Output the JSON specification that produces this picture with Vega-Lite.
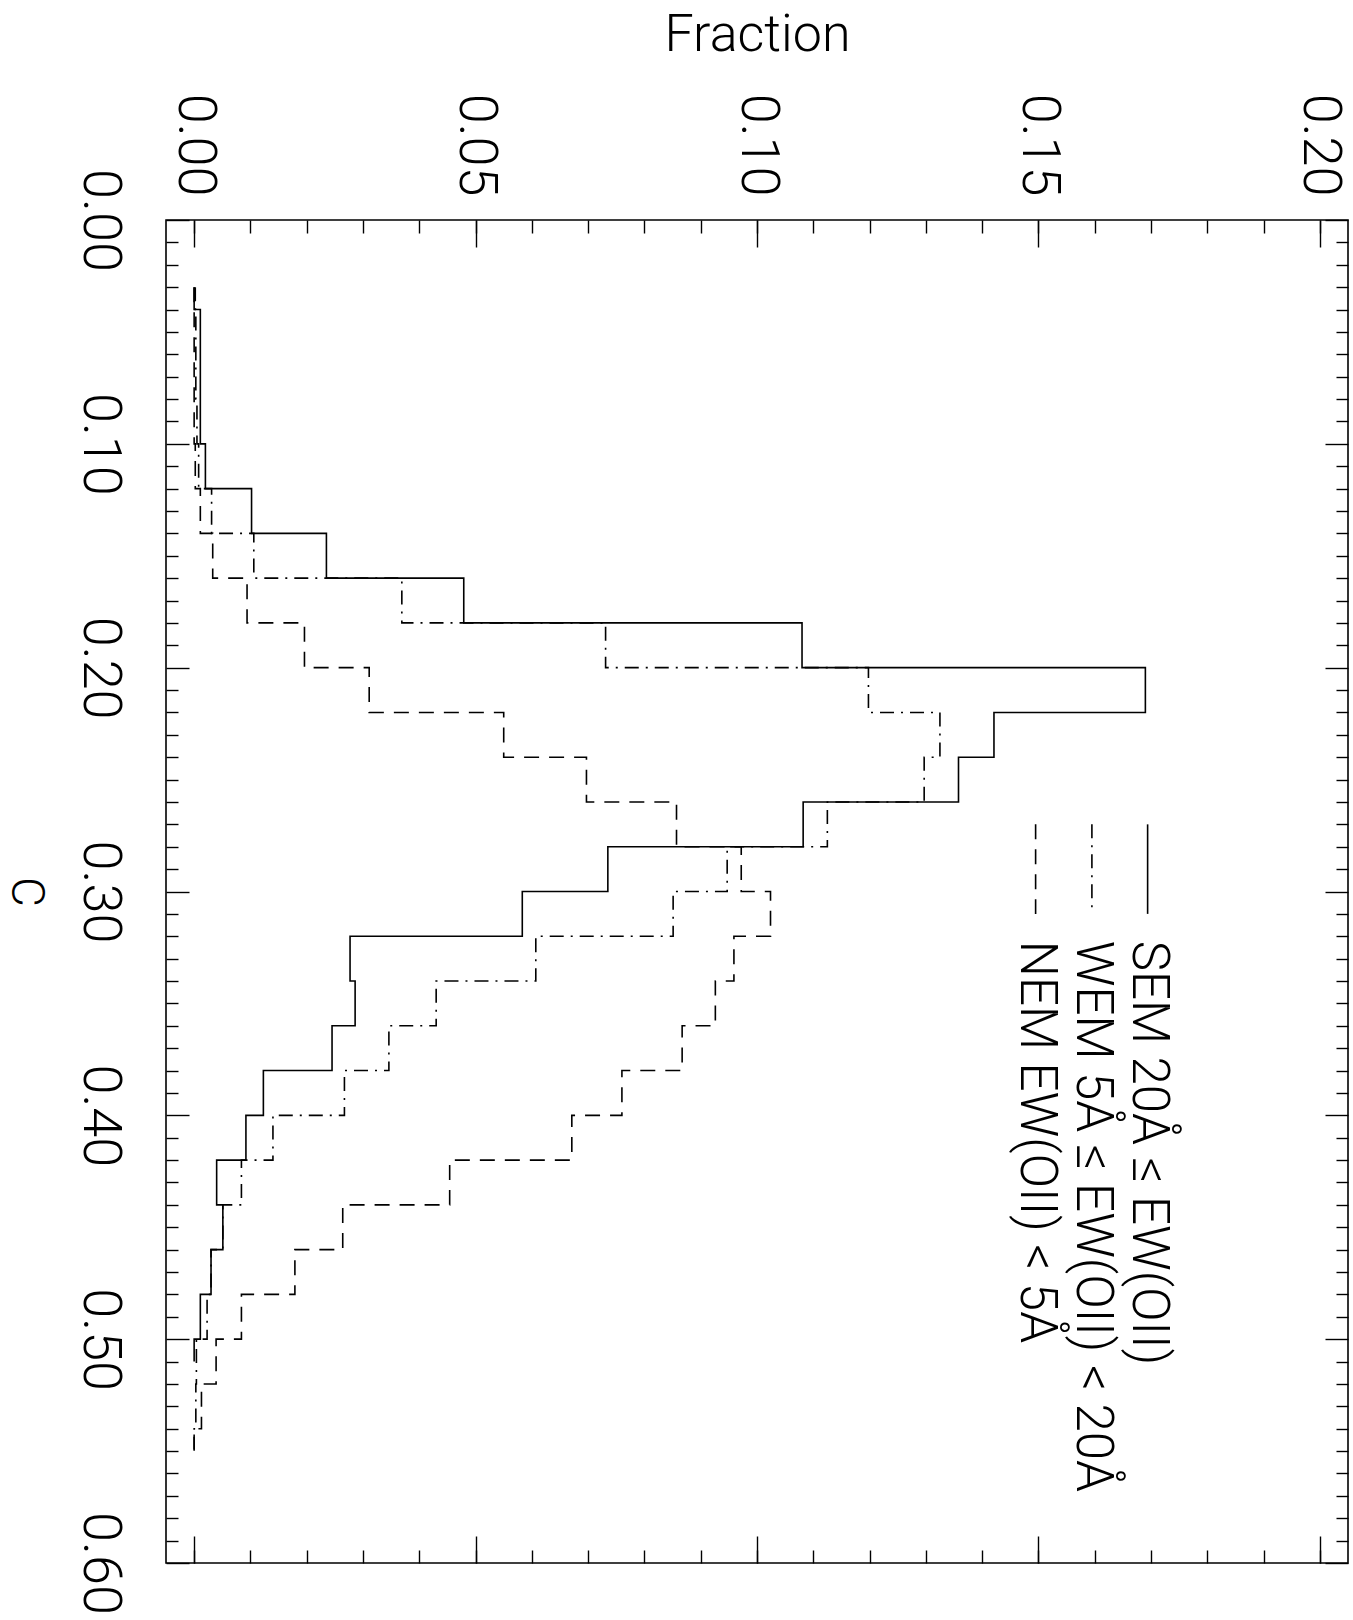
{
  "$schema": "https://vega.github.io/schema/vega-lite/v6.json",
  "width": 1182,
  "height": 1343,
  "autosize": {"type": "none"},
  "padding": {"left": 166, "top": 220, "right": 5, "bottom": 57},
  "background": "white",
  "config": {
    "view": {"stroke": "black", "strokeWidth": 1.6},
    "axis": {"grid": false, "domain": false, "tickColor": "black", "tickWidth": 1.4, "labelFont": "Roboto", "titleFont": "Roboto", "labelColor": "black", "titleColor": "black", "labelFontWeight": 300, "titleFontWeight": 300}
  },
  "datasets": {
    "hist": [
      {"group": "SEM", "c": 0.03, "fraction": 0.0},
      {"group": "SEM", "c": 0.04, "fraction": 0.0011},
      {"group": "SEM", "c": 0.06, "fraction": 0.0011},
      {"group": "SEM", "c": 0.08, "fraction": 0.0011},
      {"group": "SEM", "c": 0.10, "fraction": 0.0020},
      {"group": "SEM", "c": 0.12, "fraction": 0.0102},
      {"group": "SEM", "c": 0.14, "fraction": 0.0235},
      {"group": "SEM", "c": 0.16, "fraction": 0.0479},
      {"group": "SEM", "c": 0.18, "fraction": 0.1080},
      {"group": "SEM", "c": 0.20, "fraction": 0.1690},
      {"group": "SEM", "c": 0.22, "fraction": 0.1421},
      {"group": "SEM", "c": 0.24, "fraction": 0.1358},
      {"group": "SEM", "c": 0.26, "fraction": 0.1082},
      {"group": "SEM", "c": 0.28, "fraction": 0.0735},
      {"group": "SEM", "c": 0.30, "fraction": 0.0583},
      {"group": "SEM", "c": 0.32, "fraction": 0.0277},
      {"group": "SEM", "c": 0.34, "fraction": 0.0286},
      {"group": "SEM", "c": 0.36, "fraction": 0.0245},
      {"group": "SEM", "c": 0.38, "fraction": 0.0123},
      {"group": "SEM", "c": 0.40, "fraction": 0.0092},
      {"group": "SEM", "c": 0.42, "fraction": 0.0040},
      {"group": "SEM", "c": 0.44, "fraction": 0.0051},
      {"group": "SEM", "c": 0.46, "fraction": 0.0030},
      {"group": "SEM", "c": 0.48, "fraction": 0.0011},
      {"group": "SEM", "c": 0.50, "fraction": 0.0},
      {"group": "SEM", "c": 0.51, "fraction": 0.0},
      {"group": "WEM", "c": 0.03, "fraction": 0.0002},
      {"group": "WEM", "c": 0.04, "fraction": 0.0003},
      {"group": "WEM", "c": 0.06, "fraction": 0.0003},
      {"group": "WEM", "c": 0.08, "fraction": 0.0005},
      {"group": "WEM", "c": 0.10, "fraction": 0.0008},
      {"group": "WEM", "c": 0.12, "fraction": 0.0031},
      {"group": "WEM", "c": 0.14, "fraction": 0.0106},
      {"group": "WEM", "c": 0.16, "fraction": 0.0369},
      {"group": "WEM", "c": 0.18, "fraction": 0.0731},
      {"group": "WEM", "c": 0.20, "fraction": 0.1198},
      {"group": "WEM", "c": 0.22, "fraction": 0.1325},
      {"group": "WEM", "c": 0.24, "fraction": 0.1297},
      {"group": "WEM", "c": 0.26, "fraction": 0.1125},
      {"group": "WEM", "c": 0.28, "fraction": 0.0947},
      {"group": "WEM", "c": 0.30, "fraction": 0.0851},
      {"group": "WEM", "c": 0.32, "fraction": 0.0607},
      {"group": "WEM", "c": 0.34, "fraction": 0.0430},
      {"group": "WEM", "c": 0.36, "fraction": 0.0346},
      {"group": "WEM", "c": 0.38, "fraction": 0.0267},
      {"group": "WEM", "c": 0.40, "fraction": 0.0140},
      {"group": "WEM", "c": 0.42, "fraction": 0.0084},
      {"group": "WEM", "c": 0.44, "fraction": 0.0051},
      {"group": "WEM", "c": 0.46, "fraction": 0.0030},
      {"group": "WEM", "c": 0.48, "fraction": 0.0023},
      {"group": "WEM", "c": 0.50, "fraction": 0.0004},
      {"group": "WEM", "c": 0.52, "fraction": 0.0003},
      {"group": "WEM", "c": 0.54, "fraction": 0.0},
      {"group": "WEM", "c": 0.55, "fraction": 0.0},
      {"group": "NEM", "c": 0.03, "fraction": 0.0},
      {"group": "NEM", "c": 0.04, "fraction": 0.0},
      {"group": "NEM", "c": 0.06, "fraction": 0.0},
      {"group": "NEM", "c": 0.08, "fraction": 0.0},
      {"group": "NEM", "c": 0.10, "fraction": 0.0002},
      {"group": "NEM", "c": 0.12, "fraction": 0.0011},
      {"group": "NEM", "c": 0.14, "fraction": 0.0033},
      {"group": "NEM", "c": 0.16, "fraction": 0.0094},
      {"group": "NEM", "c": 0.18, "fraction": 0.0196},
      {"group": "NEM", "c": 0.20, "fraction": 0.0311},
      {"group": "NEM", "c": 0.22, "fraction": 0.0550},
      {"group": "NEM", "c": 0.24, "fraction": 0.0697},
      {"group": "NEM", "c": 0.26, "fraction": 0.0857},
      {"group": "NEM", "c": 0.28, "fraction": 0.0972},
      {"group": "NEM", "c": 0.30, "fraction": 0.1024},
      {"group": "NEM", "c": 0.32, "fraction": 0.0959},
      {"group": "NEM", "c": 0.34, "fraction": 0.0926},
      {"group": "NEM", "c": 0.36, "fraction": 0.0867},
      {"group": "NEM", "c": 0.38, "fraction": 0.0760},
      {"group": "NEM", "c": 0.40, "fraction": 0.0671},
      {"group": "NEM", "c": 0.42, "fraction": 0.0454},
      {"group": "NEM", "c": 0.44, "fraction": 0.0264},
      {"group": "NEM", "c": 0.46, "fraction": 0.0179},
      {"group": "NEM", "c": 0.48, "fraction": 0.0084},
      {"group": "NEM", "c": 0.50, "fraction": 0.0039},
      {"group": "NEM", "c": 0.52, "fraction": 0.0013},
      {"group": "NEM", "c": 0.54, "fraction": 0.0},
      {"group": "NEM", "c": 0.55, "fraction": 0.0}
    ]
  },
  "data": {"name": "hist"},
  "resolve": {"axis": {"x": "independent", "y": "independent"}},
  "layer": [
    {
      "transform": [{"filter": {"field": "group", "equal": "SEM"}}],
      "mark": {"type": "line", "interpolate": "step-before", "color": "black", "strokeWidth": 1.6},
      "encoding": {
        "x": {"field": "fraction", "type": "quantitative",
          "scale": {"domain": [-0.005, 0.205], "nice": false, "zero": false},
          "axis": {"orient": "top", "values": [0, 0.05, 0.1, 0.15, 0.2], "format": ".2f", "tickSize": -27, "labelAngle": 90, "labelAlign": "right", "labelBaseline": "middle", "labelPadding": 51, "labelFontSize": 54, "title": "Fraction", "titleFontSize": 52, "titlePadding": 32}},
        "y": {"field": "c", "type": "quantitative",
          "scale": {"domain": [0, 0.6], "reverse": true, "nice": false, "zero": false},
          "axis": {"orient": "left", "values": [0, 0.1, 0.2, 0.3, 0.4, 0.5, 0.6], "format": ".2f", "tickSize": -23, "labelAngle": 90, "labelAlign": "center", "labelBaseline": "top", "labelPadding": 63, "labelFontSize": 54, "title": "C", "titleAngle": 90, "titleBaseline": "top", "titleFontSize": 46, "titlePadding": 25}},
        "order": {"field": "c"}
      }
    },
    {
      "transform": [{"filter": {"field": "group", "equal": "WEM"}}],
      "mark": {"type": "line", "interpolate": "step-before", "color": "black", "strokeWidth": 1.6, "strokeDash": [14, 7, 2, 7]},
      "encoding": {
        "x": {"field": "fraction", "type": "quantitative",
          "scale": {"domain": [-0.005, 0.205], "nice": false, "zero": false},
          "axis": {"orient": "top", "values": [0, 0.01, 0.02, 0.03, 0.04, 0.05, 0.06, 0.07, 0.08, 0.09, 0.1, 0.11, 0.12, 0.13, 0.14, 0.15, 0.16, 0.17, 0.18, 0.19, 0.2], "tickSize": -13, "labels": false, "title": null}},
        "y": {"field": "c", "type": "quantitative",
          "scale": {"domain": [0, 0.6], "reverse": true, "nice": false, "zero": false},
          "axis": {"orient": "left", "values": [0.01, 0.02, 0.03, 0.04, 0.05, 0.06, 0.07, 0.08, 0.09, 0.11, 0.12, 0.13, 0.14, 0.15, 0.16, 0.17, 0.18, 0.19, 0.21, 0.22, 0.23, 0.24, 0.25, 0.26, 0.27, 0.28, 0.29, 0.31, 0.32, 0.33, 0.34, 0.35, 0.36, 0.37, 0.38, 0.39, 0.41, 0.42, 0.43, 0.44, 0.45, 0.46, 0.47, 0.48, 0.49, 0.51, 0.52, 0.53, 0.54, 0.55, 0.56, 0.57, 0.58, 0.59], "tickSize": -12, "labels": false, "title": null}},
        "order": {"field": "c"}
      }
    },
    {
      "transform": [{"filter": {"field": "group", "equal": "NEM"}}],
      "mark": {"type": "line", "interpolate": "step-before", "color": "black", "strokeWidth": 1.6, "strokeDash": [15, 10]},
      "encoding": {
        "x": {"field": "fraction", "type": "quantitative",
          "scale": {"domain": [-0.005, 0.205], "nice": false, "zero": false},
          "axis": {"orient": "bottom", "values": [0, 0.05, 0.1, 0.15, 0.2], "tickSize": -27, "labels": false, "title": null}},
        "y": {"field": "c", "type": "quantitative",
          "scale": {"domain": [0, 0.6], "reverse": true, "nice": false, "zero": false},
          "axis": {"orient": "right", "values": [0, 0.1, 0.2, 0.3, 0.4, 0.5, 0.6], "tickSize": -23, "labels": false, "title": null}},
        "order": {"field": "c"}
      }
    },
    {
      "data": {"values": [{"label": "SEM 20Å ≤ EW(OII)"}]},
      "mark": {"type": "rule", "color": "black", "strokeWidth": 1.6},
      "encoding": {
        "x": {"datum": 0.1694, "type": "quantitative",
          "axis": {"orient": "bottom", "values": [0, 0.01, 0.02, 0.03, 0.04, 0.05, 0.06, 0.07, 0.08, 0.09, 0.1, 0.11, 0.12, 0.13, 0.14, 0.15, 0.16, 0.17, 0.18, 0.19, 0.2], "tickSize": -13, "labels": false, "title": null}},
        "y": {"datum": 0.27, "type": "quantitative",
          "axis": {"orient": "right", "values": [0.01, 0.02, 0.03, 0.04, 0.05, 0.06, 0.07, 0.08, 0.09, 0.11, 0.12, 0.13, 0.14, 0.15, 0.16, 0.17, 0.18, 0.19, 0.21, 0.22, 0.23, 0.24, 0.25, 0.26, 0.27, 0.28, 0.29, 0.31, 0.32, 0.33, 0.34, 0.35, 0.36, 0.37, 0.38, 0.39, 0.41, 0.42, 0.43, 0.44, 0.45, 0.46, 0.47, 0.48, 0.49, 0.51, 0.52, 0.53, 0.54, 0.55, 0.56, 0.57, 0.58, 0.59], "tickSize": -12, "labels": false, "title": null}},
        "y2": {"datum": 0.31}
      }
    },
    {
      "data": {"values": [{"label": "WEM 5Å ≤ EW(OII) < 20Å"}]},
      "mark": {"type": "rule", "color": "black", "strokeWidth": 1.6, "strokeDash": [14, 7, 2, 7]},
      "encoding": {
        "x": {"datum": 0.1595, "type": "quantitative", "axis": null},
        "y": {"datum": 0.27, "type": "quantitative", "axis": null},
        "y2": {"datum": 0.31}
      }
    },
    {
      "data": {"values": [{"label": "NEM EW(OII) < 5Å"}]},
      "mark": {"type": "rule", "color": "black", "strokeWidth": 1.6, "strokeDash": [15, 10]},
      "encoding": {
        "x": {"datum": 0.1495, "type": "quantitative", "axis": null},
        "y": {"datum": 0.27, "type": "quantitative", "axis": null},
        "y2": {"datum": 0.31}
      }
    },
    {
      "data": {"values": [{"label": "SEM 20Å ≤ EW(OII)"}]},
      "mark": {"type": "text", "angle": 90, "align": "left", "baseline": "middle", "fontSize": 51, "fontWeight": 300, "font": "Roboto", "color": "black"},
      "encoding": {
        "x": {"datum": 0.1694, "type": "quantitative", "axis": null},
        "y": {"datum": 0.322, "type": "quantitative", "axis": null},
        "text": {"field": "label"}
      }
    },
    {
      "data": {"values": [{"label": "WEM 5Å ≤ EW(OII) < 20Å"}]},
      "mark": {"type": "text", "angle": 90, "align": "left", "baseline": "middle", "fontSize": 51, "fontWeight": 300, "font": "Roboto", "color": "black"},
      "encoding": {
        "x": {"datum": 0.1595, "type": "quantitative", "axis": null},
        "y": {"datum": 0.322, "type": "quantitative", "axis": null},
        "text": {"field": "label"}
      }
    },
    {
      "data": {"values": [{"label": "NEM EW(OII) < 5Å"}]},
      "mark": {"type": "text", "angle": 90, "align": "left", "baseline": "middle", "fontSize": 51, "fontWeight": 300, "font": "Roboto", "color": "black"},
      "encoding": {
        "x": {"datum": 0.1495, "type": "quantitative", "axis": null},
        "y": {"datum": 0.322, "type": "quantitative", "axis": null},
        "text": {"field": "label"}
      }
    }
  ]
}
